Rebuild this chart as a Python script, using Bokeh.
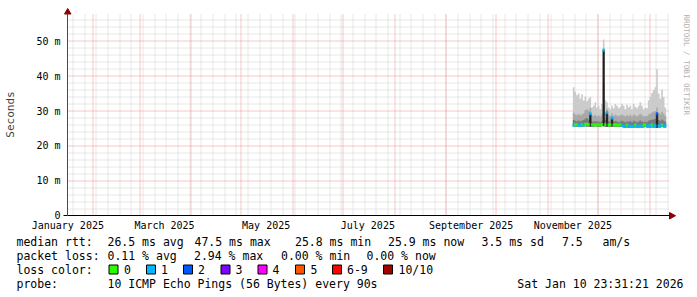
import math
import numpy as np
from bokeh.plotting import figure
from bokeh.models import Range1d, FixedTicker, ColumnDataSource
from bokeh.core.properties import value
from bokeh.embed import file_html
from bokeh.resources import INLINE

# ---------------- data (days counted from 1 Jan 2025 = 0) ----------------
first_day = 319  # 16 Nov 2025
ping_max = [36.8, 35.5, 34.5, 35.0, 33.5, 34.8, 33.0, 34.2, 32.8, 33.5, 34.0, 31.0, 31.5, 32.5,
            31.0, 31.5, 30.5, 32.0, 50.5, 33.0, 32.5, 31.0, 30.5, 31.5, 30.8, 32.0, 31.5, 30.8,
            31.2, 32.0, 31.5, 30.5, 31.8, 31.0, 31.5, 30.5, 32.0, 31.2, 30.8, 31.5, 32.5, 31.5,
            30.5, 31.0, 30.8, 33.0, 34.0, 35.2, 36.0, 36.8, 42.0, 35.0, 33.5, 36.2, 34.0, 31.0]
ping_mid = [29.5, 29.0, 28.8, 29.2, 28.7, 29.0, 29.3, 30.2, 30.5, 30.0, 30.8, 28.8, 28.6, 28.9,
            28.5, 28.7, 28.4, 29.0, 38.0, 29.5, 30.5, 28.8, 28.5, 29.3, 28.6, 28.9, 28.7, 28.5,
            28.8, 29.0, 28.7, 28.4, 28.8, 28.6, 28.9, 28.4, 29.0, 28.7, 28.5, 28.8, 29.2, 28.8,
            28.4, 28.6, 28.5, 29.0, 29.3, 29.6, 29.8, 30.0, 31.0, 29.5, 29.0, 29.8, 29.2, 28.6]
ping_dark = [27.4, 27.2, 27.0, 27.3, 27.0, 27.2, 27.4, 27.8, 28.0, 27.6, 28.2, 27.0, 26.9, 27.1,
             26.9, 27.0, 26.8, 27.2, 30.0, 27.5, 28.0, 27.0, 26.9, 27.5, 26.9, 27.1, 27.0, 26.8,
             27.0, 27.2, 27.0, 26.8, 27.0, 26.9, 27.1, 26.8, 27.2, 27.0, 26.8, 27.0, 27.3, 27.0,
             26.8, 26.9, 26.8, 27.2, 27.4, 27.5, 27.6, 27.8, 28.3, 27.4, 27.2, 27.6, 27.3, 26.9]
ping_min = [25.6, 25.5, 25.5, 25.6, 25.5, 25.5, 25.6, 25.6, 25.5, 25.5, 25.6, 25.5, 25.5, 25.6,
            25.5, 25.5, 25.5, 25.6, 25.7, 25.5, 25.6, 25.5, 25.5, 25.6, 25.5, 25.5, 25.5, 25.5,
            25.5, 25.6, 25.3, 25.2, 25.3, 25.2, 25.3, 25.2, 25.3, 25.3, 25.2, 25.3, 25.3, 25.2,
            25.3, 25.4, 25.3, 25.3, 25.2, 25.3, 25.3, 25.2, 25.3, 25.3, 25.2, 25.4, 25.3, 25.3]
median_rtt = [25.9, 26.1, 26.1, 25.9, 25.9, 26.1, 25.9, 26.2, 26.2, 26.1, 29.2, 26.1, 26.0, 26.1,
              26.0, 26.1, 26.0, 26.1, 47.5, 26.1, 29.6, 26.0, 26.1, 28.0, 26.0, 26.1, 26.0, 26.0,
              26.1, 25.8, 25.7, 25.6, 26.0, 25.7, 25.6, 25.7, 25.6, 26.0, 25.7, 25.6, 25.7, 25.6,
              26.0, 26.0, 25.7, 25.7, 25.8, 26.0, 25.7, 25.8, 29.2, 25.7, 25.7, 26.0, 25.8, 25.7]
loss = [1, 0, 0, 1, 1, 0, 1, 0, 0, 0, 1, 0, 0, 0,
        0, 0, 0, 0, 1, 0, 1, 0, 0, 1, 0, 0, 0, 0,
        0, 1, 1, 1, 0, 1, 1, 1, 1, 0, 1, 1, 1, 1,
        0, 0, 1, 1, 1, 0, 1, 1, 2, 1, 1, 0, 1, 1]

loss_colors = ["#26ff00", "#00b8ff", "#0059ff", "#7e00ff", "#ff00ff", "#ff5500", "#ff0000", "#a10000"]
loss_labels = ["0", "1", "2", "3", "4", "5", "6-9", "10/10"]

month_label_days = [16, 74, 135, 196, 258, 319]
month_labels = ["January 2025", "March 2025", "May 2025", "July 2025", "September 2025", "November 2025"]
month_start_days = [31, 59, 90, 120, 151, 181, 212, 243, 273, 304, 334, 365]
monday_days = [19 + 7 * k for k in range(52)]
y_major = [0, 10, 20, 30, 40, 50]
y_major_labels = ["0", "10 m", "20 m", "30 m", "40 m", "50 m"]
y_minor = [2, 4, 6, 8, 12, 14, 16, 18, 22, 24, 26, 28, 32, 34, 36, 38, 42, 44, 46, 48, 52, 54, 56]

legend_rows = [
    [("median rtt:", 16), ("26.5 ms avg", 107), ("47.5 ms max", 194), ("25.8 ms min", 294.5),
     ("25.9 ms now", 387.5), ("3.5 ms sd", 481), ("7.5", 561.5), ("am/s", 602)],
    [("packet loss:", 16), ("0.11 % avg", 107), ("2.94 % max", 193.5), ("0.00 % min", 280.5),
     ("0.00 % now", 366)],
    [("loss color:", 16)],
    [("probe:", 16), ("10 ICMP Echo Pings (56 Bytes) every 90s", 107)],
]
timestamp = "Sat Jan 10 23:31:21 2026"

# ---------------- layout constants (pixels) ----------------
W, H = 697, 297
AX_L, AX_R, AX_T, AX_B = 67, 669, 13, 215   # plotting area of the reference
X0, X1 = 15.8, 377.0
Y1 = 58.0
PXD = (AX_R - AX_L) / (X1 - X0)
PYM = (AX_B - AX_T) / Y1
MONO = "DejaVu Sans Mono"


def dx(px):
    return X0 + (px - AX_L) / PXD


def dy(py):
    return (AX_B - py) / PYM


def snap_x(d):
    # move a vertical rule onto a pixel centre so that the dotted line stays crisp
    px = AX_L + (d - X0) * PXD
    return dx(math.floor(px) + 0.5)


def snap_y(v):
    py = AX_B - v * PYM
    return dy(math.floor(py) + 0.5)


# the frame covers the whole canvas; axes are pinned with fixed_location
p = figure(width=W, height=H, output_backend="svg", toolbar_location=None,
           x_range=Range1d(dx(0), dx(W)), y_range=Range1d(dy(H), dy(0)),
           min_border_left=0, min_border_right=0, min_border_top=0, min_border_bottom=0)
p.background_fill_color = "white"
p.border_fill_color = "white"
p.outline_line_color = None
p.grid.visible = False

# grid lines (dotted, limited to the plotting area)
ytop = dy(AX_T)
wk = [snap_x(d) for d in monday_days]
mo = [snap_x(d) for d in month_start_days]
ymn = [snap_y(v) for v in y_minor]
ymj = [snap_y(v) for v in y_major[1:]]
p.segment(x0=wk, x1=wk, y0=[0] * len(wk), y1=[ytop] * len(wk),
          line_color="#d0d0d0", line_dash="1 1", line_width=1)
p.segment(x0=[X0] * len(ymn), x1=[X1] * len(ymn), y0=ymn, y1=ymn,
          line_color="#d0d0d0", line_dash="1 1", line_width=1)
p.segment(x0=mo, x1=mo, y0=[0] * len(mo), y1=[ytop] * len(mo),
          line_color="#ee9090", line_dash="1 1", line_width=1)
p.segment(x0=[X0] * len(ymj), x1=[X1] * len(ymj), y0=ymj, y1=ymj,
          line_color="#ee9090", line_dash="1 1", line_width=1)

# axes
xa = p.xaxis[0]
xa.fixed_location = 0
xa.bounds = (X0, X1)
xa.ticker = FixedTicker(ticks=month_label_days)
xa.major_label_overrides = dict(zip(month_label_days, month_labels))
xa.major_tick_out = 0
xa.major_tick_in = 0
xa.minor_tick_out = 0
xa.minor_tick_in = 0
xa.major_label_standoff = 4
xa.major_label_text_font = MONO
xa.major_label_text_font_size = "10px"
xa.major_label_text_color = "black"
xa.axis_line_color = "black"

ya = p.yaxis[0]
ya.fixed_location = X0
ya.bounds = (0, ytop)
ya.ticker = FixedTicker(ticks=y_major)
ya.major_label_overrides = dict(zip(y_major, y_major_labels))
ya.major_tick_out = 0
ya.major_tick_in = 0
ya.minor_tick_out = 0
ya.minor_tick_in = 0
ya.major_label_standoff = 7
ya.major_label_text_font = MONO
ya.major_label_text_font_size = "10px"
ya.major_label_text_color = "black"
ya.axis_line_color = "#4a4a4a"
ya.axis_label = "Seconds"
ya.axis_label_text_font = MONO
ya.axis_label_text_font_size = "11px"
ya.axis_label_text_font_style = "normal"
ya.axis_label_standoff = 16

# smoke bands
days = first_day + np.arange(len(ping_max))
xs_step = np.append(days, days[-1] + 1)


def ext(a):
    return np.append(np.array(a, dtype=float), a[-1])


p.varea_step(x=xs_step, y1=ext(ping_min), y2=ext(ping_max), step_mode="after", fill_color="#cbcbcb")
p.varea_step(x=xs_step, y1=ext(ping_min), y2=ext(ping_mid), step_mode="after", fill_color="#a8a8a8")
p.varea_step(x=xs_step, y1=ext(ping_min), y2=ext(ping_dark), step_mode="after", fill_color="#7a7a7a")

med = np.array(median_rtt)
mn = np.array(ping_min)
hi = med > 27.5
p.quad(left=days[hi], right=days[hi] + 1, bottom=mn[hi], top=med[hi],
       fill_color="#1e1e1e", line_color="#1e1e1e", line_width=0.5)

cols = [loss_colors[min(l, 6) if l < 10 else 7] for l in loss]
src = ColumnDataSource(dict(left=days, right=days + 1, bottom=med - 0.35, top=med + 0.35, c=cols))
p.quad(left="left", right="right", bottom="bottom", top="top", fill_color="c", line_color="c",
       line_width=0.5, source=src)

# short extension of the time axis to the left of the value axis, and the arrows
p.segment(x0=[dx(63)], x1=[X0], y0=[0], y1=[0], line_color="black", line_width=1)
p.patches(xs=[[dx(64), dx(70.5), dx(67.2)], [dx(669), dx(669), dx(675)]],
          ys=[[dy(13.5), dy(13.5), dy(8)], [dy(212), dy(218.5), dy(215.2)]],
          fill_color="#8b0000", line_color="#8b0000")

# watermark
p.text(x=[dx(686)], y=[dy(14)], text=["RRDTOOL / TOBI OETIKER"], angle=-math.pi / 2,
       text_font=value(MONO), text_font_size="7.6px", text_color="#b0b0b0",
       text_align="left", text_baseline="middle")

# legend rows
row_y = [241, 255, 269, 283]
tx, ty, tt = [], [], []
for row, py in zip(legend_rows, row_y):
    for txt, px in row:
        tx.append(dx(px))
        ty.append(dy(py))
        tt.append(txt)
swatch_x = [108.5, 146, 183, 220.5, 257.5, 295, 332, 383]
label_x = [123.5, 160.5, 197.5, 235, 272, 310, 346.5, 398]
for lab, lx in zip(loss_labels, label_x):
    tx.append(dx(lx))
    ty.append(dy(269))
    tt.append(lab)
p.text(x=tx, y=ty, text=tt, text_font=value(MONO), text_font_size="11.5px", text_color="black",
       text_align="left", text_baseline="middle")
p.text(x=[dx(683)], y=[dy(283)], text=[timestamp], text_font=value(MONO), text_font_size="11.5px",
       text_color="black", text_align="right", text_baseline="middle")
p.quad(left=[dx(s) for s in swatch_x], right=[dx(s + 9) for s in swatch_x],
       top=[dy(264.5)] * 8, bottom=[dy(273.5)] * 8,
       fill_color=loss_colors, line_color="black", line_width=1)

open("out.html", "w").write(file_html(p, INLINE))
